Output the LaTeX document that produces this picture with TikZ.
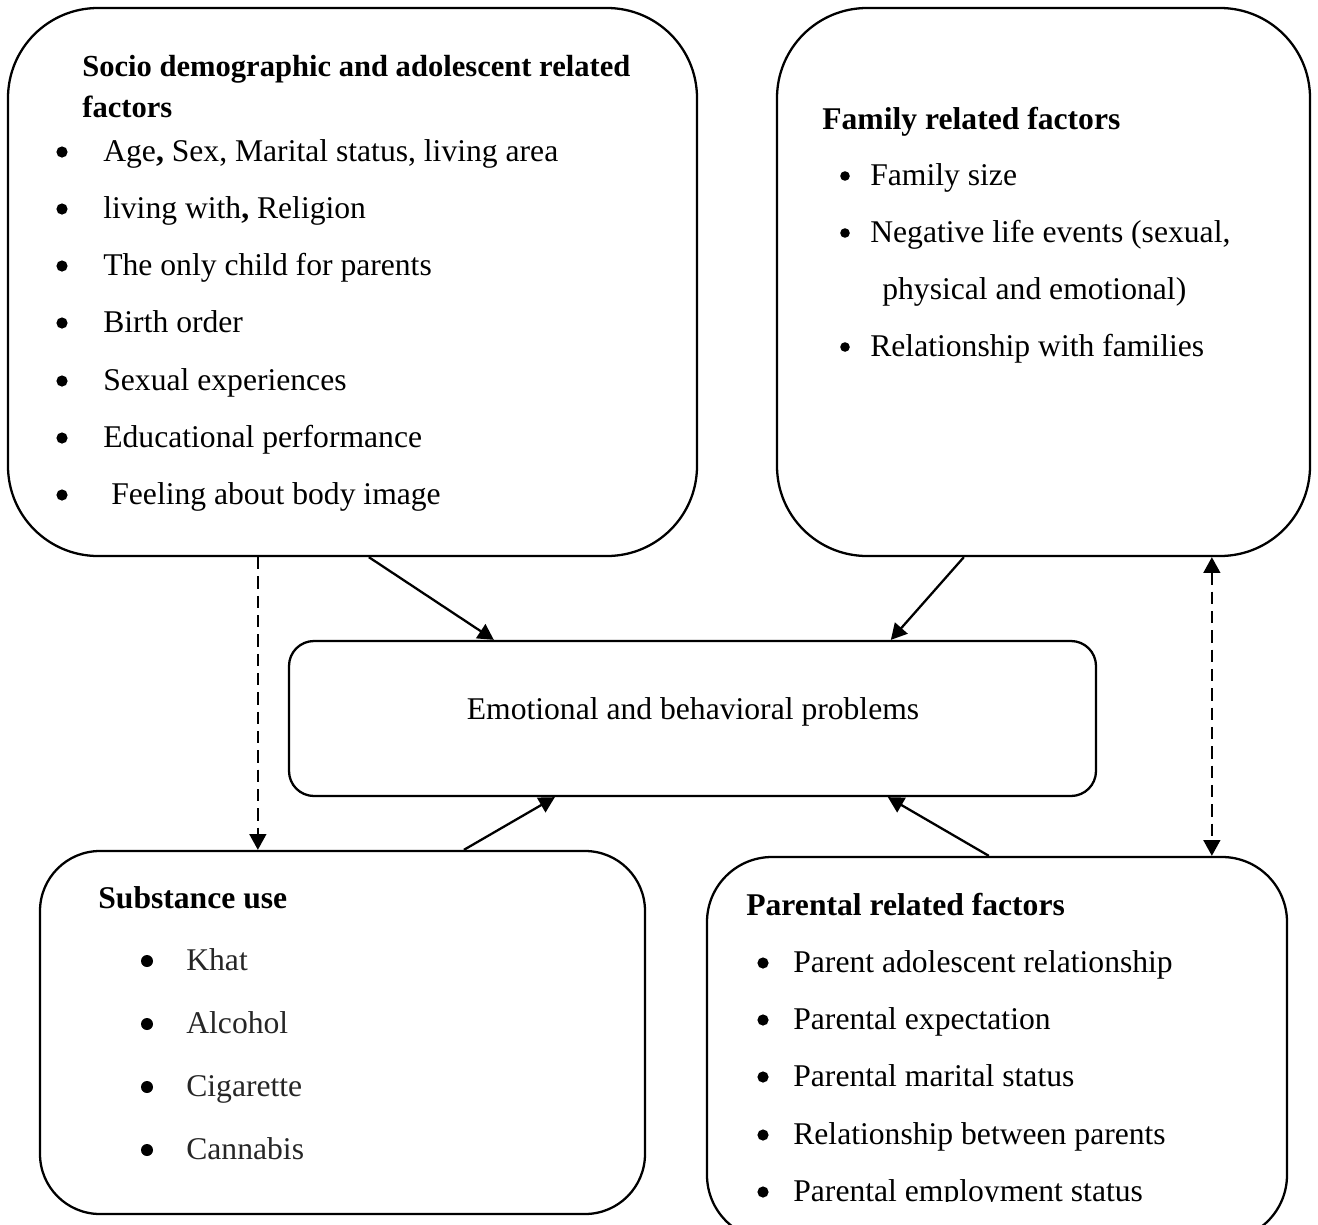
\documentclass[tikz,border=0pt]{standalone}
\usepackage{fontspec}
\setmainfont{Liberation Serif}
\usetikzlibrary{arrows.meta,fit,calc}
\begin{document}
\begin{tikzpicture}[x=0.02cm,y=-0.02cm,
  box/.style={draw, line width=1.3pt, inner sep=0pt},
  txt/.style={anchor=base west, inner sep=0pt, font=\fontsize{18}{20}\selectfont},
  ttl/.style={anchor=base west, inner sep=0pt, font=\fontsize{18}{20}\selectfont\bfseries},
  tip/.style={-{Triangle[length=9pt,width=9.5pt]}},
  arr/.style={line width=1.3pt, tip},
  dsh/.style={line width=1.4pt, dash pattern=on 7pt off 4pt},
]
\useasboundingbox (0,0) rectangle (1318,1224);
\clip (0,0) rectangle (1318,1224);

% boxes
\node[box, rounded corners=1.8cm, fit={(8,8) (697,556)}] (socio) {};
\node[box, rounded corners=1.8cm, fit={(777,8) (1310,556)}] (fam) {};
\node[box, rounded corners=0.5cm, fit={(289,641) (1096,796)}] (emo) {};
\node[box, rounded corners=1.2cm, fit={(40,851) (645,1214)}] (sub) {};
\node[box, rounded corners=1.3cm, fit={(707,857) (1287,1240)}] (par) {};

% socio text
\node[ttl, font=\fontsize{17.4}{20}\selectfont\bfseries] (s0) at (82,76) {Socio demographic and adolescent related};
\node[ttl, font=\fontsize{17.4}{20}\selectfont\bfseries] (s0b) at (82,117) {factors};
\foreach \y/\t [count=\i] in {161/{Age\textbf{,} Sex, Marital status, living area},
  218/{living with\textbf{,} Religion},
  275/{The only child for parents},
  332/{Birth order},
  390/{Sexual experiences},
  447/{Educational performance}}{
  \fill (62,\y-9) circle (5.6);
  \node[txt] (s\i) at (103,\y) {\t};
}
\fill (62,504-9) circle (5.6);
\node[txt] (s7) at (111,504) {Feeling about body image};

% family text
\node[ttl] (f0) at (822,129) {Family related factors};
\fill (845,185-9) circle (4.8);
\node[txt] (f1) at (870,185) {Family size};
\fill (845,242-9) circle (4.8);
\node[txt] (f2) at (870,242) {Negative life events (sexual,};
\node[txt] (f2b) at (882,299) {physical and emotional)};
\fill (845,356-9) circle (4.8);
\node[txt] (f3) at (870,356) {Relationship with families};

% center
\node[anchor=base, inner sep=0pt, font=\fontsize{18}{20}\selectfont] (e0) at (693,719) {Emotional and behavioral problems};

% substance
\node[ttl] (u0) at (98,908) {Substance use};
\foreach \y/\t [count=\i] in {970/Khat, 1033/Alcohol, 1096/Cigarette, 1159/Cannabis}{
  \fill (147,\y-9) circle (6);
  \node[txt, text=black!85] (u\i) at (186,\y) {\t};
}

% parental
\node[ttl] (p0) at (746,915) {Parental related factors};
\foreach \y/\t [count=\i] in {972/Parent adolescent relationship, 1029/Parental expectation, 1086/Parental marital status, 1144/Relationship between parents}{
  \fill (763,\y-9) circle (5.6);
  \node[txt] (p\i) at (793,\y) {\t};
}
\fill (763,1201-9) circle (5.6);
\begin{scope}
  \clip (700,1150) rectangle (1280,1201);
  \node[txt] (p5) at (793,1201) {Parental employment status};
\end{scope}

% connectors
\draw[dsh, tip] ($(socio.south west)+(251,0)$) -- ($(sub.north west)+(219,0)$);
\draw[arr] ($(socio.south west)+(362,0)$) -- ($(emo.north west)+(206,0)$);
\draw[arr] ($(fam.south west)+(188,0)$) -- ($(emo.north west)+(603,0)$);
\draw[arr] ($(sub.north west)+(425,0)$) -- ($(emo.south west)+(267,0)$);
\draw[arr] ($(par.north west)+(283,0)$) -- ($(emo.south west)+(600,0)$);
\draw[dsh, {Triangle[length=9pt,width=9.5pt]}-{Triangle[length=9pt,width=9.5pt]}] ($(fam.south west)+(436,0)$) -- ($(par.north west)+(506,0)$);
\end{tikzpicture}
\end{document}
